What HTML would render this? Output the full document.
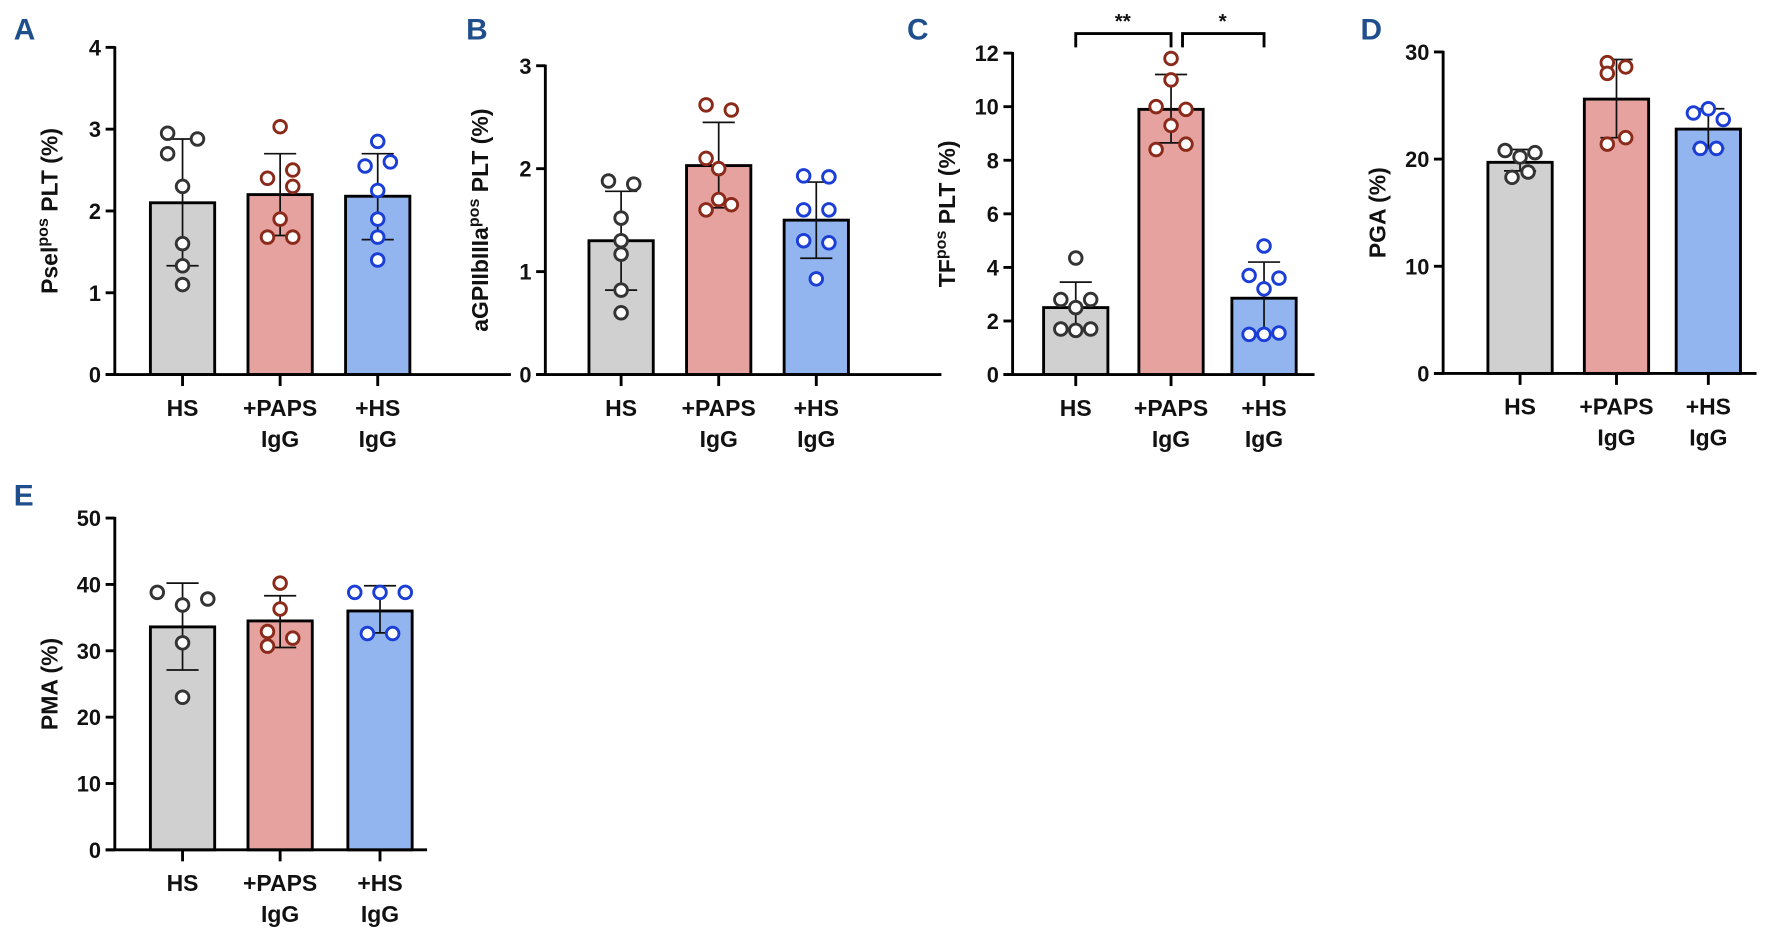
<!DOCTYPE html>
<html><head><meta charset="utf-8"><style>
html,body{margin:0;padding:0;background:#fff}
svg{display:block}
text{font-family:"Liberation Sans",Arial,sans-serif;font-weight:bold}
</style></head><body>
<svg id="fig" width="1791" height="942" viewBox="0 0 1560 820" xmlns="http://www.w3.org/2000/svg"></svg>
<script>
const categories = ["HS", "+PAPS IgG", "+HS IgG"];
const aMeans = [2.1, 2.2, 2.18];
const aErr = [[1.33, 2.88], [1.7, 2.7], [1.65, 2.7]];
const aPts = [[2.95, 2.88, 2.7, 2.3, 1.6, 1.33, 1.1], [3.03, 2.4, 2.5, 2.3, 1.9, 1.68, 1.68], [2.85, 2.55, 2.6, 2.25, 1.9, 1.68, 1.4]];
const aTicks = [0, 1, 2, 3, 4];
const bMeans = [1.3, 2.03, 1.5];
const bErr = [[0.82, 1.78], [1.62, 2.45], [1.13, 1.87]];
const bPts = [[1.88, 1.85, 1.52, 1.3, 1.17, 0.82, 0.6], [2.62, 2.57, 2.1, 2.0, 1.7, 1.6, 1.65], [1.93, 1.92, 1.6, 1.6, 1.3, 1.28, 0.93]];
const bTicks = [0, 1, 2, 3];
const cMeans = [2.5, 9.9, 2.85];
const cErr = [[1.65, 3.45], [8.65, 11.2], [1.5, 4.2]];
const cPts = [[4.35, 2.8, 2.5, 2.8, 1.7, 1.65, 1.7], [11.8, 11.0, 10.0, 9.9, 9.3, 8.4, 8.6], [4.8, 3.7, 3.2, 3.6, 1.5, 1.5, 1.55]];
const cTicks = [0, 2, 4, 6, 8, 10, 12];
const dMeans = [19.7, 25.6, 22.8];
const dErr = [[18.9, 20.9], [22.0, 29.3], [21.0, 24.7]];
const dPts = [[20.8, 20.2, 20.6, 18.3, 18.8], [29.0, 28.0, 28.6, 21.4, 22.0], [24.3, 24.7, 23.7, 21.0, 21.0]];
const dTicks = [0, 10, 20, 30];
const eMeans = [33.6, 34.5, 36.0];
const eErr = [[27.1, 40.2], [30.5, 38.3], [32.7, 39.8]];
const ePts = [[38.8, 36.9, 37.8, 31.2, 23.0], [40.2, 36.3, 32.9, 30.7, 31.9], [38.8, 38.8, 38.8, 32.6, 32.6]];
const eTicks = [0, 10, 20, 30, 40, 50];

const NS = "http://www.w3.org/2000/svg";
const svg = document.getElementById("fig");
const fills = ["#d0d0d0", "#e5a29e", "#93b5ef"];
const strokes = ["#333333", "#8b2a1a", "#1a3ed6"];
function mk(tag, attrs, parent) {
  const e = document.createElementNS(NS, tag);
  for (const k in attrs) e.setAttribute(k, attrs[k]);
  (parent || svg).appendChild(e); return e;
}
function panel(cfg) {
  const g = mk("g", {});
  
  
  const yMax = cfg.ticks[cfg.ticks.length - 1];
  const y = v => cfg.y0 - (v / yMax) * (cfg.y0 - cfg.yTop);
  const L = mk("text", {x: cfg.letterX, y: cfg.letterY, "font-size": 26, fill: "#1f4e8c"}, g);
  L.textContent = cfg.letter;
  
  
  cfg.means.forEach((m, i) => {
    const cx = cfg.cx[i];
    const r = mk("rect", {x: cx - 28, y: y(m), width: 56, height: cfg.y0 - y(m), fill: fills[i], stroke: "#000", "stroke-width": 2.5}, g);
    
    
  });
  cfg.err.forEach((e, i) => {
    const cx = cfg.cx[i];
    mk("line", {x1: cx, x2: cx, y1: y(e[0]), y2: y(e[1]), stroke: "#111", "stroke-width": 1.5}, g);
    mk("line", {x1: cx - 14, x2: cx + 14, y1: y(e[0]), y2: y(e[0]), stroke: "#111", "stroke-width": 1.5}, g);
    mk("line", {x1: cx - 14, x2: cx + 14, y1: y(e[1]), y2: y(e[1]), stroke: "#111", "stroke-width": 1.5}, g);
  });
  cfg.pts.forEach((arr, i) => {
    const offs = cfg.jit[i];
    arr.forEach((v, j) => {
      const c = mk("circle", {cx: cfg.cx[i] + (offs[j] || 0), cy: y(v), r: 5.5, fill: "#fff", stroke: strokes[i], "stroke-width": 2.5}, g);
      
      
    });
  });
  mk("line", {x1: cfg.ax, x2: cfg.ax, y1: cfg.yTop - 1, y2: cfg.y0, stroke: "#000", "stroke-width": 2.5}, g);
  mk("line", {x1: cfg.ax - 8, x2: cfg.xEnd, y1: cfg.y0, y2: cfg.y0, stroke: "#000", "stroke-width": 2.5}, g);
  cfg.ticks.forEach(t => {
    mk("line", {x1: cfg.ax - 8, x2: cfg.ax, y1: y(t), y2: y(t), stroke: "#000", "stroke-width": 2.5}, g);
    const tx = mk("text", {x: cfg.ax - 12, y: y(t) + 7, "font-size": 19, "text-anchor": "end", fill: "#111"}, g);
    tx.textContent = t;
    
    
  });
  categories.forEach((c, i) => {
    const cx = cfg.cx[i];
    mk("line", {x1: cx, x2: cx, y1: cfg.y0, y2: cfg.y0 + 10, stroke: "#000", "stroke-width": 2.5}, g);
    c.split(" ").forEach((p, k) => {
      const t = mk("text", {x: cx, y: cfg.y0 + 36 + k * 27, "font-size": 20, "text-anchor": "middle", fill: "#111"}, g);
      t.textContent = p;
      
      
    });
  });
  const yl = mk("text", {x: 0, y: 0, "font-size": 20, "text-anchor": "middle", fill: "#111", transform: `translate(${cfg.ax - 50},${(cfg.y0 + cfg.yTop) / 2}) rotate(-90)`}, g);
  yl.innerHTML = cfg.ylabel;
  
  
}
const sup = s => s + '<tspan dy="-8" font-size="14">pos</tspan><tspan dy="8"> PLT (%)</tspan>';
panel({letter: "A", letterX: 12, letterY: 34, ax: 100, y0: 326, yTop: 41, xEnd: 445, cx: [159, 244, 329], means: aMeans, err: aErr, pts: aPts, ticks: aTicks, ylabel: sup('Psel'),
  jit: [[-13, 13, -13, 0, 0, 0, 0], [0, -11, 11, 11, 0, -11, 11], [0, -11, 11, 0, 0, 0, 0]]});
panel({letter: "B", letterX: 406, letterY: 34, ax: 475, y0: 326, yTop: 57, xEnd: 820, cx: [541, 626, 711], means: bMeans, err: bErr, pts: bPts, ticks: bTicks, ylabel: sup('aGPIIbIIIa'),
  jit: [[-11, 11, 0, 0, 0, 0, 0], [-11, 11, -11, 0, 0, -11, 11], [-11, 11, -11, 11, -11, 11, 0]]});
panel({letter: "C", letterX: 790, letterY: 34, ax: 882, y0: 326, yTop: 46, xEnd: 1145, cx: [937, 1020, 1101], means: cMeans, err: cErr, pts: cPts, ticks: cTicks, ylabel: sup('TF'),
  jit: [[0, -13, 0, 13, -13, 0, 13], [0, 0, -13, 13, 0, -13, 13], [0, -13, 0, 13, -13, 0, 13]]});
panel({letter: "D", letterX: 1185, letterY: 34, ax: 1257, y0: 325, yTop: 45, xEnd: 1530, cx: [1324, 1408, 1488], means: dMeans, err: dErr, pts: dPts, ticks: dTicks, ylabel: 'PGA (%)',
  jit: [[-13, 0, 13, -7, 7], [-8, -8, 8, -8, 8], [-13, 0, 13, -7, 7]]});
panel({letter: "E", letterX: 12, letterY: 440, ax: 100, y0: 740, yTop: 451, xEnd: 372, cx: [159, 244, 331], means: eMeans, err: eErr, pts: ePts, ticks: eTicks, ylabel: 'PMA (%)',
  jit: [[-22, 0, 22, 0, 0], [0, 0, -11, -11, 11], [-22, 0, 22, -11, 11]]});
const br1 = mk("path", {d: "M937,41 V29 H1020 V41", fill: "none", stroke: "#000", "stroke-width": 2.5});


const br2 = mk("path", {d: "M1030,41 V29 H1101 V41", fill: "none", stroke: "#000", "stroke-width": 2.5});


const s1 = mk("text", {x: 978, y: 24, "font-size": 18, "text-anchor": "middle", fill: "#111"});
s1.textContent = "**";


const s2 = mk("text", {x: 1065, y: 24, "font-size": 18, "text-anchor": "middle", fill: "#111"});
s2.textContent = "*";


</script>
</body></html>
